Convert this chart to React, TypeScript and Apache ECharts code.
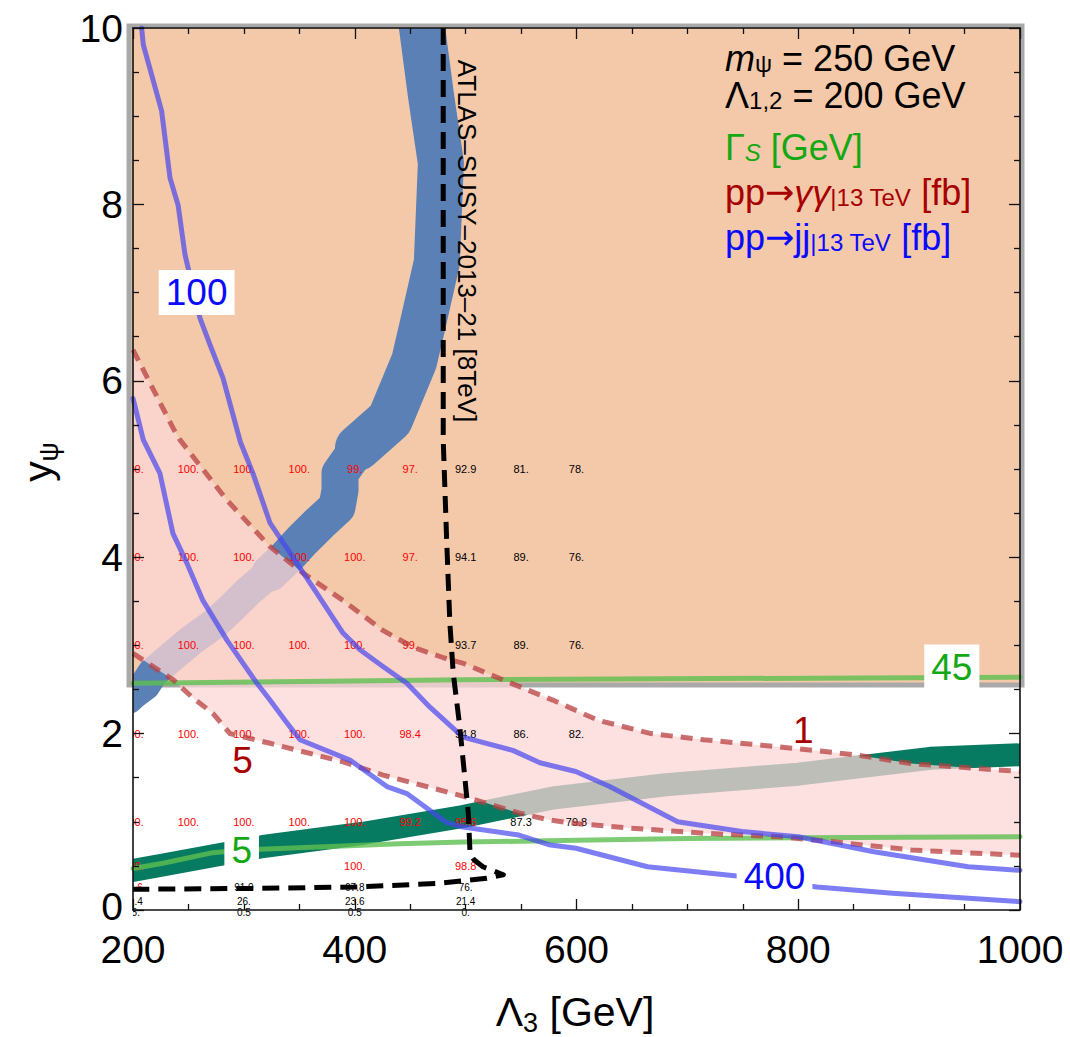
import React, { useEffect, useRef } from "react";
import * as echarts from "echarts";

const F = '"Liberation Sans", Arial, Helvetica, sans-serif';
const FA = '"DejaVu Sans", sans-serif';

// ---------- data (axis units: x = Λ3 [GeV], y = yψ) ----------
const xTickValues = [200, 400, 600, 800, 1000];
const yTickValues = [0, 2, 4, 6, 8, 10];

// region with Γ_S > 45 GeV (orange)
const orangeRegion: number[][] = [[200, 2.55], [1000, 10]];

// thick blue band (three segments of increasing thickness)
const blueBandLow: number[][] = [
  [196, 2.4], [200, 2.45], [210.8, 2.55], [218, 2.69], [234.8, 2.87], [252.8, 3.06], [273.9, 3.25],
  [290.2, 3.44], [305.5, 3.63], [323.5, 3.82],
];
const blueBandMid: number[][] = [
  [323.5, 3.82], [338.6, 4.0], [352.4, 4.19], [368.6, 4.39], [384, 4.57], [386.7, 4.76],
  [386.7, 4.95], [402.9, 5.24],
];
const blueBandTop: number[][] = [
  [402.9, 5.24], [431.7, 5.56], [453.5, 6.22], [460.6, 6.6], [474, 7.34], [477.7, 8.47],
  [468.7, 9.24], [460.7, 10.0], [455, 10.5],
];

// thick dark green band
const greenBand: number[][] = [
  [190, 0.43], [200, 0.45], [227, 0.51], [317.5, 0.72], [407.7, 0.87], [497.6, 1.06], [578.7, 1.27],
  [680.6, 1.42], [800, 1.54], [919, 1.72], [1000, 1.76], [1010, 1.77],
];

// pp -> γγ contours (dashed red): 1 fb (upper) and 5 fb (lower)
const gg1: number[][] = [
  [200, 6.35], [236.3, 5.46], [242.4, 5.33], [284.5, 4.65], [323.5, 4.12], [353.3, 3.82],
  [389.4, 3.51], [425.4, 3.17], [452.5, 2.98], [480, 2.86], [497.2, 2.8], [541.3, 2.57],
  [578.7, 2.38], [619.7, 2.15], [667.3, 2.0], [714.9, 1.93], [783, 1.85], [851, 1.76],
  [902, 1.66], [1000, 1.57],
];
const gg5: number[][] = [
  [200, 2.91], [236.3, 2.61], [254.4, 2.4], [272, 2.23], [287.5, 2.0], [323.5, 1.89],
  [389.4, 1.68], [425.4, 1.53], [485.8, 1.33], [500.6, 1.28], [548, 1.1], [575.5, 1.02],
  [599.5, 0.98], [647, 0.93], [715, 0.87], [783, 0.83], [834, 0.77], [902, 0.68], [1000, 0.62],
];

// Γ_S contours (green): 45 GeV and 5 GeV
const gamma45: number[][] = [[200, 2.57], [500, 2.61], [1000, 2.64]];
const gamma5: number[][] = [
  [200, 0.47], [227, 0.53], [272, 0.65], [300, 0.68], [378, 0.72], [440, 0.75], [498, 0.77],
  [600, 0.79], [700, 0.81], [800, 0.82], [1000, 0.83],
];

// pp -> jj contours (blue): 100 fb and 400 fb
const jj100: number[][] = [
  [207.8, 10], [209.3, 9.81], [225.8, 9.06], [233.4, 8.3], [240.7, 7.99], [246.9, 7.43],
  [260.4, 6.71], [269.4, 6.41], [281.2, 6.03], [297, 5.3], [308.2, 4.95], [323.5, 4.39],
  [341.6, 4.05], [365.9, 3.59], [389.4, 3.14], [404.7, 2.95], [425.4, 2.76], [447, 2.57],
  [467.8, 2.3], [497.6, 1.96], [542.6, 1.81], [567, 1.67], [599.3, 1.57], [629.9, 1.4],
  [691.2, 1.0], [749.1, 0.89], [800.1, 0.83], [868.2, 0.66], [953.2, 0.49], [1000, 0.45],
];
const jj400: number[][] = [
  [200, 5.8], [209.3, 5.33], [224.3, 4.95], [236, 4.27], [248.7, 3.93], [263, 3.51],
  [284.7, 3.06], [311.8, 2.57], [323.5, 2.38], [338.9, 2.12], [350.6, 1.93], [395.7, 1.7],
  [429, 1.4], [447, 1.32], [483, 0.99], [497.6, 0.94], [548, 0.85], [575, 0.74],
  [599.5, 0.7], [664, 0.49], [749, 0.38], [816.8, 0.26], [885, 0.19], [1000, 0.094],
];

// ATLAS-SUSY-2013-21 [8 TeV] boundary (black dashed)
const atlasLimit: number[][] = [
  [479.8, 10], [479.8, 5.33], [482.9, 4.19], [485.8, 3.25], [488.8, 2.69], [494.5, 2.1],
  [498.9, 1.55], [502.4, 1.1], [504, 0.64], [507.5, 0.57], [515.6, 0.49], [534, 0.4],
  [519, 0.36], [473.8, 0.3], [398.7, 0.26], [308.5, 0.245], [200, 0.235],
];

// table of numbers printed on the plane
const tableX = [200, 250, 300, 350, 400, 450, 500, 550, 600];
const tableY = [5, 4, 3, 2, 1, 0.5, 0.25, 0.1, -0.03];
const tableText: (string | null)[][] = [
  ["100.", "100.", "100.", "100.", "99.", "97.", "92.9", "81.", "78."],
  ["100.", "100.", "100.", "100.", "100.", "97.", "94.1", "89.", "76."],
  ["100.", "100.", "100.", "100.", "100.", "99.", "93.7", "89.", "76."],
  ["100.", "100.", "100.", "100.", "100.", "98.4", "94.8", "86.", "82."],
  ["100.", "100.", "100.", "100.", "100.", "99.2", "95.6", "87.3", "79.8"],
  ["100.", null, null, null, "100.", null, "98.8", null, null],
  ["99.6", null, "91.0", null, "67.8", null, "76.", null, null],
  ["31.4", null, "26.", null, "23.6", null, "21.4", null, null],
  ["15.", null, "0.5", null, "0.5", null, "0.", null, null],
];

// contour labels
const contourLabelAt: number[][] = [
  [257.4, 7.0], [778.6, 0.377], [938.5, 2.755], [298, 0.68], [298.7, 1.69], [804.5, 2.04],
];
const contourLabelText = ["100", "400", "45", "5", "5", "1"];
const contourLabelKind = ["jj", "jj", "gamma", "gamma", "gg", "gg"];

// ---------- styles ----------
const C_BLUE_TXT = "#0a0aff";
const C_GREEN_TXT = "#14a814";
const C_RED_TXT = "#a80000";

const tableItems: { x: number; y: number; t: string; small: boolean }[] = [];
tableY.forEach((y, r) =>
  tableX.forEach((x, c) => {
    const t = tableText[r][c];
    if (t !== null) tableItems.push({ x, y, t, small: y < 0.3 });
  })
);

function lineSeries(data: number[][], color: string, width: number, z: number, extra: any = {}) {
  return {
    type: "line",
    data,
    z,
    showSymbol: false,
    symbol: "none",
    silent: true,
    clip: true,
    lineStyle: { color, width, cap: "round", join: "round", ...extra },
  };
}

// thick band drawn as a polyline strictly clipped to the plot area
function bandSeries(data: number[][], color: string, width: number, z: number) {
  return {
    type: "custom",
    z,
    silent: true,
    data: [orangeRegion[0]],
    renderItem: (params: any, api: any) => {
      const cs = params.coordSys;
      return {
        type: "group",
        clipPath: { type: "rect", shape: { x: cs.x, y: cs.y, width: cs.width, height: cs.height } },
        children: [
          {
            type: "polyline",
            shape: { points: data.map((p) => api.coord(p)) },
            style: { stroke: color, lineWidth: width, fill: null, lineCap: "round", lineJoin: "round" },
          },
        ],
      };
    },
  };
}

function richLine(text: string, color: string) {
  return {
    text,
    rich: {
      n: { fontSize: 36, fontFamily: F, lineHeight: 34, fill: color },
      a: { fontSize: 35, fontFamily: FA, lineHeight: 34, fill: color },
      i: { fontSize: 36, fontFamily: F, fontStyle: "italic", lineHeight: 34, fill: color },
      s: { fontSize: 24, fontFamily: F, lineHeight: 14, verticalAlign: "bottom", fill: color },
      si: { fontSize: 24, fontFamily: F, fontStyle: "italic", lineHeight: 14, verticalAlign: "bottom", fill: color },
    },
    align: "left",
    verticalAlign: "top",
  };
}

const axisCommon = {
  type: "value",
  z: 8,
  axisLine: { show: true, onZero: false, lineStyle: { color: "#111", width: 1.6 } },
  axisTick: { show: true, inside: true, length: 11, lineStyle: { color: "#111", width: 1.3 } },
  minorTick: { show: true, splitNumber: 4, length: 6, lineStyle: { color: "#111", width: 1.3 } },
  splitLine: { show: false },
  minorSplitLine: { show: false },
};

export default function App() {
  const ref = useRef<HTMLDivElement>(null);
  useEffect(() => {
    if (!ref.current) return;
    const chart = echarts.init(ref.current, null, { renderer: "svg" });
    const option: any = {
      animation: false,
      backgroundColor: "#ffffff",
      grid: { left: 133, right: 50, top: 28, bottom: 127, containLabel: false },
      xAxis: [
        {
          ...axisCommon,
          position: "bottom",
          min: xTickValues[0],
          max: xTickValues[xTickValues.length - 1],
          interval: 200,
          axisLabel: {
            color: "#000", fontSize: 39, fontFamily: F, lineHeight: 30, margin: 24,
            formatter: (v: number) => String(v),
          },
        },
        {
          ...axisCommon,
          position: "top",
          min: xTickValues[0],
          max: xTickValues[xTickValues.length - 1],
          interval: 200,
          axisLabel: { show: false },
        },
      ],
      yAxis: [
        {
          ...axisCommon,
          position: "left",
          min: yTickValues[0],
          max: yTickValues[yTickValues.length - 1],
          interval: 2,
          axisLabel: {
            color: "#000", fontSize: 39, fontFamily: F, lineHeight: 30, margin: 10,
            formatter: (v: number) => (v === 0 ? "{z|0}" : String(v)),
            rich: { z: { fontSize: 39, fontFamily: F, lineHeight: 30, color: "#000", padding: [0, 0, 8, 0] } },
          },
        },
        {
          ...axisCommon,
          position: "right",
          min: yTickValues[0],
          max: yTickValues[yTickValues.length - 1],
          interval: 2,
          axisLabel: { show: false },
        },
      ],
      series: [
        {
          type: "custom",
          z: 1,
          silent: true,
          data: [orangeRegion[0]],
          renderItem: (params: any, api: any) => {
            const a = api.coord(orangeRegion[0]);
            const b = api.coord(orangeRegion[1]);
            return {
              type: "rect",
              shape: { x: a[0] - 4, y: b[1] - 2, width: b[0] - a[0] + 6, height: a[1] - b[1] + 2 },
              style: { fill: "#f4c9a9", stroke: "#a9a9a9", lineWidth: 5 },
            };
          },
        },
        bandSeries(blueBandLow, "#5b80b5", 31, 2),
        bandSeries(blueBandMid, "#5b80b5", 37, 2),
        bandSeries(blueBandTop, "#5b80b5", 46, 2),
        bandSeries(greenBand, "#077a62", 23, 2),
        {
          type: "custom",
          z: 3,
          silent: true,
          data: [gg1[0]],
          renderItem: (params: any, api: any) => {
            const pts = [
              ...gg1.map((p) => api.coord(p)),
              ...[...gg5].reverse().map((p) => api.coord(p)),
            ];
            return {
              type: "polygon",
              shape: { points: pts },
              style: { fill: "rgba(252,214,214,0.75)" },
            };
          },
        },
        {
          type: "custom",
          z: 4,
          silent: true,
          data: tableItems.map((d) => [d.x, d.y]),
          renderItem: (params: any, api: any) => {
            const item = tableItems[params.dataIndex];
            const p = api.coord([api.value(0), api.value(1)]);
            const cs = params.coordSys;
            const red = parseFloat(item.t) >= 95;
            return {
              type: "group",
              clipPath: { type: "rect", shape: { x: cs.x, y: cs.y, width: cs.width, height: cs.height + 12 } },
              children: [
                {
                  type: "text",
                  x: p[0],
                  y: p[1],
                  style: {
                    text: item.t,
                    fill: red ? "#ff0000" : "#000000",
                    font: `${item.small ? 10 : 11}px ${F}`,
                    align: "center",
                    verticalAlign: "middle",
                  },
                },
              ],
            };
          },
        },
        lineSeries(gamma45, "rgba(92,191,80,0.8)", 5, 5),
        lineSeries(gamma5, "rgba(92,191,80,0.8)", 5, 5),
        lineSeries(gg1, "rgba(184,64,64,0.75)", 5, 5, { type: [12, 8], cap: "butt" }),
        lineSeries(gg5, "rgba(184,64,64,0.75)", 5, 5, { type: [12, 8], cap: "butt" }),
        lineSeries(jj100, "rgba(70,70,240,0.7)", 5, 5),
        lineSeries(jj400, "rgba(70,70,240,0.7)", 5, 5),
        lineSeries(atlasLimit, "#000000", 5, 6, { type: [17, 9], cap: "butt" }),
        {
          type: "custom",
          z: 7,
          silent: true,
          data: contourLabelAt,
          renderItem: (params: any, api: any) => {
            const i = params.dataIndex;
            const p = api.coord([api.value(0), api.value(1)]);
            const kind = contourLabelKind[i];
            const color = kind === "jj" ? C_BLUE_TXT : kind === "gamma" ? C_GREEN_TXT : C_RED_TXT;
            const bg = kind === "gg" ? undefined : "#ffffff";
            return {
              type: "text",
              x: p[0],
              y: p[1],
              style: {
                text: contourLabelText[i],
                fill: color,
                font: `37px ${F}`,
                align: "center",
                verticalAlign: "middle",
                backgroundColor: bg,
                padding: bg ? [5, 7, 3, 7] : 0,
              },
            };
          },
        },
      ],
      graphic: [
        { type: "text", z: 20, x: 725, y: 71 - 30, style: richLine("{i|m}{s|ψ}{n| = 250 GeV}", "#000") },
        { type: "text", z: 20, x: 725, y: 108 - 30, style: richLine("{n|Λ}{s|1,2}{n| = 200 GeV}", "#000") },
        { type: "text", z: 20, x: 725, y: 160 - 30, style: richLine("{n|Γ}{si|S}{n| [GeV]}", C_GREEN_TXT) },
        { type: "text", z: 20, x: 725, y: 205 - 30, style: richLine("{n|pp}{a|→}{i|γγ}{s||13 TeV}{n| [fb]}", C_RED_TXT) },
        { type: "text", z: 20, x: 725, y: 250 - 30, style: richLine("{n|pp}{a|→}{n|jj}{s||13 TeV}{n| [fb]}", C_BLUE_TXT) },
        {
          type: "text",
          z: 20,
          x: 467,
          y: 241,
          rotation: -Math.PI / 2,
          style: {
            text: "ATLAS–SUSY–2013–21 [8TeV]",
            font: `26px ${F}`,
            fill: "#000",
            align: "center",
            verticalAlign: "middle",
          },
        },
        {
          type: "text",
          z: 20,
          x: 575,
          y: 1012,
          style: {
            text: "{n|Λ}{s|3}{n| [GeV]}",
            rich: {
              n: { fontSize: 41, fontFamily: F, lineHeight: 48, fill: "#000" },
              s: { fontSize: 27, fontFamily: F, lineHeight: 24, verticalAlign: "bottom", fill: "#000" },
            },
            align: "center",
            verticalAlign: "middle",
          },
        },
        {
          type: "text",
          z: 20,
          x: 38,
          y: 462,
          rotation: Math.PI / 2,
          style: {
            text: "{n|y}{s|ψ}",
            rich: {
              n: { fontSize: 41, fontFamily: F, lineHeight: 48, fill: "#000" },
              s: { fontSize: 27, fontFamily: F, lineHeight: 24, verticalAlign: "bottom", fill: "#000" },
            },
            align: "center",
            verticalAlign: "middle",
          },
        },
      ],
    };
    chart.setOption(option);
    return () => chart.dispose();
  }, []);
  return (
    <div
      ref={ref}
      style={{ position: "fixed", left: 0, top: 0, width: 1070, height: 1037, background: "#fff" }}
    />
  );
}
